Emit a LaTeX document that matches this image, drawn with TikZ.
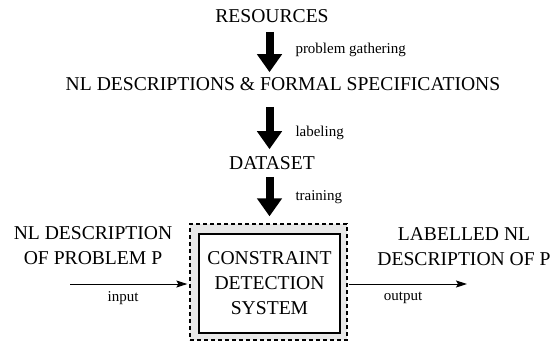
\documentclass[tikz,border=0pt]{standalone}
\usepackage{fontspec}
\setmainfont{Liberation Serif}
\newfontfamily\diagfont{Liberation Serif}
\usetikzlibrary{arrows.meta}
\begin{document}
\begin{tikzpicture}[x=1pt,y=-1pt,
  bigtext/.style={font=\diagfont\fontsize{19.6}{25}\selectfont, inner sep=0pt, align=center},
  smalltext/.style={font=\diagfont\fontsize{15}{18}\selectfont, inner sep=0pt, anchor=west},
  bigarrow/.style={line width=8pt, -{Triangle[length=18pt,width=24pt]}},
  flowarrow/.style={line width=1pt, -{Stealth[length=11pt,width=7pt,inset=2pt]}},
  outerbox/.style={draw, dash pattern=on 4pt off 3pt, line width=1.3pt,
    fill=black!9, minimum width=157pt, minimum height=116pt, inner sep=0pt},
  innerbox/.style={draw, line width=1.6pt, fill=white, minimum width=141pt,
    minimum height=99pt, inner sep=0pt, align=center,
    font=\diagfont\fontsize{19.6}{25}\selectfont}]
  \useasboundingbox (0,0) rectangle (554,341);
  \clip (0,0) rectangle (554,341);

  % pipeline that produces the training data
  \node[bigtext] (res) at (272,16) {RESOURCES};
  \node[bigtext] (spec) at (283,84) {NL DESCRIPTIONS \& FORMAL SPECIFICATIONS};
  \node[bigtext] (data) at (272,163) {DATASET};

  % the system
  \node[outerbox] (sys) at (268.5,282) {};
  \node[innerbox] (core) at (269.5,283.5) {CONSTRAINT\\DETECTION\\SYSTEM};

  \draw[bigarrow] ([yshift=-9pt]res.south -| core.north) -- ([yshift=5pt]spec.north -| core.north)
    node[smalltext, midway, xshift=22pt, yshift=2pt] (l1) {problem gathering};
  \draw[bigarrow] ([yshift=-16pt]spec.south -| core.north) -- ([yshift=7pt]data.north -| core.north)
    node[smalltext, midway, xshift=22pt, yshift=-5pt] (l2) {labeling};
  \draw[bigarrow] ([yshift=-7pt]data.south -| core.north) -- ([yshift=7pt]sys.north -| core.north)
    node[smalltext, midway, xshift=22pt, yshift=-1pt] (l3) {training};

  % input and output
  \node[bigtext] (inp) at (93,245.5) {NL DESCRIPTION\\OF PROBLEM P};
  \node[bigtext] (outp) at (464,247) {LABELLED NL\\DESCRIPTION OF P};
  \coordinate (instart) at (70,284);
  \coordinate (outend) at (467,284);
  \draw[flowarrow] (instart) -- ([xshift=-2pt]sys.west |- instart);
  \draw[flowarrow] ([xshift=1pt]sys.east |- outend) -- (outend);
  \node[smalltext, anchor=center] (lin) at (123,298) {input};
  \node[smalltext, anchor=center] (lout) at (403,298) {output};
\end{tikzpicture}
\end{document}
